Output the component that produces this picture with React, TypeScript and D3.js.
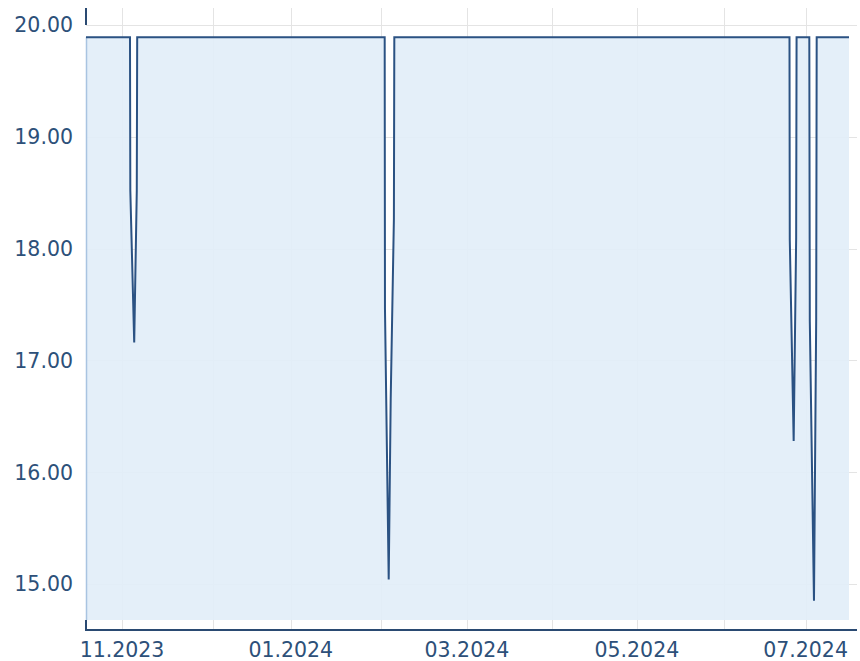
import React from "react";
import * as d3 from "d3";

// Trading-day index (x) and price (y) of the series
const dayIndex = [
  0,
  10.74, 10.82, 11.77, 12.4, 12.5,
  72.93, 73.0, 73.91, 74.4, 75.18, 75.28,
  171.77, 171.84, 172.79, 173.4, 173.5,
  176.61, 176.73, 177.75, 178.29, 178.41,
  186.3,
];
const price = [
  19.89,
  19.89, 18.52, 17.16, 18.52, 19.89,
  19.89, 17.46, 15.04, 16.66, 18.27, 19.89,
  19.89, 18.08, 16.28, 18.1, 19.89,
  19.89, 17.35, 14.85, 17.38, 19.89,
  19.89,
];

// Month starts (trading-day index) and their labels
const monthIndex = [8.8, 30.9, 50, 72, 93, 113.7, 134.5, 155.7, 175.7];
const monthLabels = ["11.2023", "", "01.2024", "", "03.2024", "", "05.2024", "", "07.2024"];

const yTicks = [15, 16, 17, 18, 19, 20];

const W = 860;
const H = 661;
const left = 86;
const plotRight = 849;
const gridRight = 857;
const top = 8;
const plotBottom = 620;
const axisY = 630;

export default function App() {
  const x = d3.scaleLinear().domain([0, 186.3]).range([left, plotRight]);
  const y = d3.scaleLinear().domain([14.678, 20.152]).range([plotBottom, top]);

  const pts = dayIndex.map((d, i) => [d, price[i]] as [number, number]);
  const line = d3
    .line<[number, number]>()
    .x((d) => x(d[0]))
    .y((d) => y(d[1]));
  const area = d3
    .area<[number, number]>()
    .x((d) => x(d[0]))
    .y0(plotBottom)
    .y1((d) => y(d[1]));

  const textColor = "#2d5079";
  const axisColor = "#2a4a72";
  const gridColor = "#e4e4e4";

  return (
    <svg
      width={W}
      height={H}
      style={{ position: "absolute", left: 0, top: 0, display: "block" }}
      fontFamily="'DejaVu Sans', Verdana, sans-serif"
    >
      <rect x={0} y={0} width={W} height={H} fill="#ffffff" />
      {/* horizontal grid */}
      {yTicks.map((t) => (
        <line
          key={"h" + t}
          x1={left}
          x2={gridRight}
          y1={Math.round(y(t)) + 0.5}
          y2={Math.round(y(t)) + 0.5}
          stroke={gridColor}
          strokeWidth={1}
        />
      ))}
      {/* vertical grid */}
      {monthIndex.map((m, i) => (
        <line
          key={"v" + i}
          x1={Math.round(x(m)) + 0.5}
          x2={Math.round(x(m)) + 0.5}
          y1={top}
          y2={axisY}
          stroke={gridColor}
          strokeWidth={1}
        />
      ))}
      {/* area */}
      <path d={area(pts) || ""} fill="#e2eef9" fillOpacity={0.93} />
      <line x1={left + 0.5} x2={left + 0.5} y1={y(19.89)} y2={plotBottom} stroke="#a9c4e1" strokeWidth={1.5} />
      {/* line */}
      <path d={line(pts) || ""} fill="none" stroke="#2b5283" strokeWidth={2} strokeLinejoin="miter" />
      {/* axes */}
      <line x1={left} x2={left} y1={top} y2={y(20)} stroke={axisColor} strokeWidth={2} />
      <line x1={left} x2={left} y1={plotBottom} y2={axisY + 1} stroke={axisColor} strokeWidth={2} />
      <line x1={left - 1} x2={gridRight} y1={axisY} y2={axisY} stroke={axisColor} strokeWidth={2} />
      {/* y labels */}
      {yTicks.map((t) => (
        <text
          key={"yl" + t}
          x={73}
          y={y(t)}
          dy="0.36em"
          textAnchor="end"
          fontSize={20.5}
          fill={textColor}
        >
          {t.toFixed(2)}
        </text>
      ))}
      {/* x labels */}
      {monthIndex.map((m, i) =>
        monthLabels[i] ? (
          <text
            key={"xl" + i}
            x={x(m)}
            y={657}
            textAnchor="middle"
            fontSize={20.5}
            fill={textColor}
          >
            {monthLabels[i]}
          </text>
        ) : null
      )}
    </svg>
  );
}
